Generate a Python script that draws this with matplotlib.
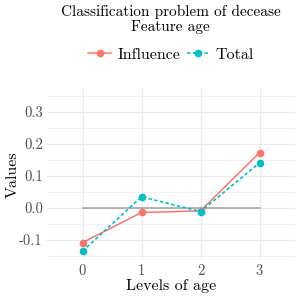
import numpy as np
import matplotlib
matplotlib.use("Agg")
from matplotlib import pyplot as plt

plt.rcParams['font.family'] = 'serif'
plt.rcParams['font.serif'] = ['cmr10', 'DejaVu Serif']
plt.rcParams['mathtext.fontset'] = 'cm'

niveles = [0, 1, 2, 3]
influence = [-0.108, -0.014, -0.009, 0.173]
total = [-0.135, 0.035, -0.011, 0.141]
yticks = [-0.1, 0.0, 0.1, 0.2, 0.3]
yticklabels = ["-0.1", "0.0", "0.1", "0.2", "0.3"]

c_inf = "#F8766D"
c_tot = "#00BFC4"

fig = plt.figure(figsize=(3, 3), dpi=100)
ax = fig.add_axes([0.157, 0.133, 0.826, 0.57])

ax.plot([0, 3], [0, 0], color="#a6a6a6", lw=1.2, zorder=1)
ax.plot(niveles, influence, "-o", color=c_inf, ms=4.5, lw=1.1, label="Influence", zorder=3)
ax.plot(niveles, total, "o", ls=(0, (2, 1.5)), color=c_tot, ms=4.5, lw=1.2, label="Total", zorder=3)

ax.set_xlim(-0.6, 3.6)
ax.set_ylim(-0.163, 0.372)
ax.set_xticks(niveles)
ax.set_xticklabels([str(n) for n in niveles])
ax.set_yticks(yticks)
ax.set_yticklabels(yticklabels)
ax.set_yticks([-0.15, -0.05, 0.05, 0.15, 0.25, 0.35], minor=True)
ax.grid(which="major", color="#ebebeb", lw=0.9)
ax.grid(which="minor", color="#ebebeb", lw=0.5)
ax.set_axisbelow(True)
for s in ax.spines.values():
    s.set_visible(False)
ax.tick_params(which="both", length=0, labelsize=10.5, labelcolor="#4d4d4d", pad=3)

ax.set_xlabel("Levels of age", fontsize=11.5, labelpad=1)
ax.set_ylabel("Values", fontsize=11.5, labelpad=0)

fig.text(0.568, 0.96, "Classification problem of decease", ha="center", va="center", fontsize=11)
fig.text(0.568, 0.91, "Feature age", ha="center", va="center", fontsize=11)
ax.legend(loc="center", bbox_to_anchor=(0.5, 1.2), ncol=2, frameon=False, fontsize=11.5,
          handlelength=1.4, columnspacing=0.4, handletextpad=0.4, borderpad=0)

plt.savefig("out.png", dpi=100)
